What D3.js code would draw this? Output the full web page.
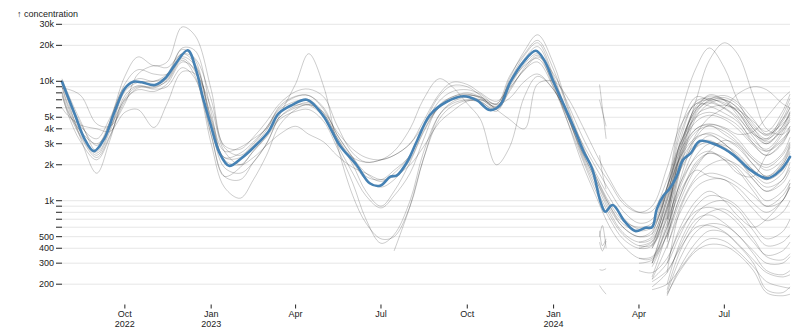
<!DOCTYPE html>
<html><head><meta charset="utf-8">
<script src="https://cdn.jsdelivr.net/npm/d3@7"></script>
<style>
body{margin:0;background:#fff;}
svg{display:block;font-family:"Liberation Sans",Arial,sans-serif;}
</style>
</head><body>
<svg id="chart" width="800" height="328"></svg>
<script>
// ---------- DATA ----------
const yLabel = "↑ concentration";
const yTickValues = [200,300,400,500,600,700,800,900,1000,2000,3000,4000,5000,6000,7000,8000,9000,10000,20000,30000];
const yTickLabels = ["200","300","400","500","","","","","1k","2k","3k","4k","5k","","","","","10k","20k","30k"];
const xTickDates = ["2022-10-01","2023-01-01","2023-04-01","2023-07-01","2023-10-01","2024-01-01","2024-04-01","2024-07-01"];
const xTickMonths = ["Oct","Jan","Apr","Jul","Oct","Jan","Apr","Jul"];
const xTickYears = ["2022","2023","","","","2024","",""];

// semi-monthly sample dates
const dates = [
 "2022-07-26","2022-08-01","2022-08-15","2022-09-01","2022-09-15","2022-10-01","2022-10-15","2022-11-01","2022-11-15","2022-12-01",
 "2022-12-15","2023-01-01","2023-01-15","2023-02-01","2023-02-15","2023-03-01","2023-03-15","2023-04-01","2023-04-15","2023-05-01",
 "2023-05-15","2023-06-01","2023-06-15","2023-07-01","2023-07-15","2023-08-01","2023-08-15","2023-09-01","2023-09-15","2023-10-01",
 "2023-10-15","2023-11-01","2023-11-15","2023-12-01","2023-12-15","2024-01-01","2024-01-15","2024-02-01","2024-02-15","2024-03-01",
 "2024-03-15","2024-04-01","2024-04-15","2024-05-01","2024-05-15","2024-06-01","2024-06-15","2024-07-01","2024-07-15","2024-08-01",
 "2024-08-15","2024-09-01","2024-09-09"];

// long-running sites (aligned with dates)
const longSites = [
 [8700,8600,7600,4400,4200,6500,11500,13500,13000,17000, 15500,7000,2900,2700,3400,4600,6500,8200,8600,7400, 4300,2500,2100,2200,2400,3000,4600,7800,9800,9400, 8000,6800,8800,12500,16000,11500,6800,3400,2100,1400, 950,800,900,1900,4200,6500,7000,6600,5600,3600, 3000,3900,4600],
 [9500,7000,3300,1700,3200,7600,9200,8800,10200,15500, 12000,3600,1600,1500,2100,3000,5000,6200,6600,5200, 3000,1700,1100,870,1100,1700,3200,6300,7400,7800, 7200,5900,9800,15500,19500,10500,5400,2300,1300,750, 520,420,430,900,1900,3000,3200,2700,2200,1600, 1300,1500,2100],
 [6000,5200,4300,4000,3800,5500,5800,4100,6500,12000, 11500,6000,2600,2000,2300,2900,3600,4200,3600,3100, 2400,1900,1700,1500,1600,2000,2800,4500,5600,6800, 7000,6400,7200,10000,11500,8500,5500,3000,1900,1200, 820,650,700,1300,2600,4000,4300,3600,3000,2200, 1900,2400,3100],
 [10500,8000,4600,2600,4600,11000,16000,13500,14500,28500, 24000,8500,2800,2400,3000,4100,6000,7400,7600,5800, 3600,2300,1600,1500,1800,2400,4200,7500,9200,9000, 7600,6000,10500,18000,24500,14000,6500,2900,1600,900, 600,500,560,1300,3000,5800,7200,7000,6000,4000, 3300,4200,5500],
 [9000,6200,3500,2400,3800,8200,9800,10000,11500,18500, 15000,4200,1900,1700,2100,3000,5200,9500,17000,9000, 3000,1100,650,480,500,900,2200,5200,6700,7400, 7000,6200,9000,14000,17000,9500,4800,2000,1100,600, 420,330,330,650,1400,2300,2600,2200,1800,1200, 900,1000,1400],
 [7600,5600,3800,3000,4100,7000,8500,8200,9500,14500, 12500,4600,2300,2500,3100,4100,5800,6800,7000,5400, 3400,2300,2100,2200,2600,4000,7000,10500,9000,6500, 4800,2000,2800,7500,11000,8500,5200,2800,1700,1050, 720,580,620,1200,2300,3400,3600,3000,2400,1800, 1500,1800,2500],
 [8200,5800,3400,2300,3500,6800,8800,9000,10000,15000, 11000,3000,1300,1050,1500,2400,4300,5800,6400,5300, 3400,2000,1200,900,1200,2100,3700,6000,7000,7600, 7400,6500,9500,13500,15500,9500,5400,2400,1400,800, 540,450,480,1000,2100,3300,3700,3300,2800,2000, 1600,2000,2800],
 [9200,6500,3700,2500,4000,8500,10500,10000,11000,19000, 18000,5500,2200,2000,2600,3500,5000,6000,6300,5000, 3200,2100,1500,1300,1500,2200,3800,6200,7400,8000, 7400,6100,10000,16500,21000,11000,5600,2500,1500,900, 640,560,600,1150,2400,4000,4400,4000,3300,2300, 2000,2500,3400],
 [8000,5400,3100,2200,3400,7200,9000,8600,9000,13000, 10500,3500,1600,1900,2600,3400,4800,5600,5800,4600, 2800,1400,700,440,520,1000,2500,5200,6500,7000, 6800,5600,8500,12500,14500,8800,4800,2200,1200,700, 480,400,420,850,1800,2800,3100,2800,2300,1700, 1400,1700,2300],
 [9900,7200,4200,3300,4900,9000,10000,9200,10500,16000, 13500,5000,2600,2800,3300,4000,5600,6300,6400,5500, 3800,2700,2300,2200,2400,3000,4200,6000,7200,7700, 7300,5800,4800,4000,9500,10000,7500,4200,2500,1500, 1000,800,820,1500,3000,5000,5500,5000,4300,3000, 2600,3200,4200],
 [10200,7600,4400,2900,4600,9500,12500,11500,11500,17000, 14000,4800,2300,2300,2900,3900,6200,7500,7600,6000, 3600,2300,1700,1450,1700,2400,4000,6800,8200,8500, 7800,6400,11000,17000,22000,12500,6200,2700,1600,950, 680,600,650,1300,2800,4600,5200,4800,4000,2900, 2400,3000,4000],
 [null,null,null,null,null,null,null,null,null,null, null,null,null,null,null,null,null,null,null,null, null,null,null,null,380,900,2200,4800,6200,6900, 6700,5800,8200,13000,16500,9000,5200,2500,1500,850, 600,500,530,1050,2300,3800,4200,3800,3100,2200, 1800,2200,3000]
];

// short fragments in late February 2024
const fragmentDates = ["2024-02-19","2024-02-22","2024-02-26"];
const fragments = [
 [9400,6000,3300],[7000,5600,4200],[2400,1700,1250],[560,420,480],
 [500,620,400],[450,380,460],[265,262,270],[195,180,165]
];

// sites that start in 2024 (aligned with dates from 2024-03-01)
const lateSites = [
 [null,null,400,450,900,3200,6800,7200,6400,5600,3800,3000,4200,5600],
 [null,null,null,300,750,2600,6200,7500,6900,5200,3400,2600,3600,4800],
 [null,null,null,520,1200,4000,7400,6900,6000,5000,3600,3300,5200,7200],
 [null,null,null,null,620,2200,5600,6800,7300,6400,4400,3500,4600,6000],
 [null,null,null,420,1000,3600,6500,6200,5400,4600,3200,2700,3800,5000],
 [null,null,null,null,500,1800,5000,6500,7000,6000,4000,3100,4000,5400],
 [null,null,420,460,1100,3000,5800,7700,7000,5500,3700,3200,4800,6600],
 [null,null,null,230,560,2000,5200,6000,6300,5800,4600,3800,5600,7800],
 [null,null,null,400,850,2800,6000,6600,5900,4800,3000,2400,3100,3900],
 [null,null,null,null,700,2400,5400,7000,7600,6700,4800,3600,4400,5200],
 [null,null,300,320,600,1300,2400,3000,2900,2500,1800,1500,2000,2600],
 [null,null,null,null,480,1000,1900,2600,3200,2900,2000,1600,2100,2900],
 [null,null,null,400,700,1400,2800,3500,3000,2300,1500,1200,1500,1900],
 [null,null,null,null,400,900,1600,2000,2200,2000,1500,1200,1400,1800],
 [null,null,null,280,520,1100,2100,2500,2300,1900,1300,1000,1200,1500],
 [null,null,null,null,250,850,1500,1700,1600,1400,1100,900,1100,1400],
 [null,null,330,340,600,1200,1800,1600,1500,1300,950,800,1000,1300],
 [null,null,null,220,420,800,1300,1500,1500,1200,850,680,800,1000],
 [null,null,null,220,300,520,900,1100,1050,900,620,480,550,700],
 [null,null,null,null,200,450,780,950,1000,850,560,420,450,520],
 [null,null,260,250,330,560,820,880,800,650,450,350,380,450],
 [null,null,null,null,180,380,650,800,850,700,480,340,320,360],
 [null,null,null,190,250,420,700,760,650,520,380,300,300,340],
 [null,null,null,null,170,330,550,640,620,520,360,260,240,260],
 [null,null,null,210,260,400,600,620,550,440,320,250,230,240],
 [null,null,null,null,160,280,450,560,540,430,300,180,170,190],
 [null,null,null,180,200,270,400,480,460,380,280,210,190,185],
 [null,null,null,null,165,260,380,430,420,360,260,170,160,165],
 [null,null,null,300,800,2500,7000,15000,21000,17000,7500,4000,3600,4200],
 [null,null,450,500,1300,5000,13000,19000,13000,7000,4200,3600,4800,6000],
 [null,null,null,null,700,1800,3600,5000,6000,7800,9000,8500,6500,6000],
 [null,null,null,null,450,1500,3400,4300,4100,3600,3800,5000,7200,8200],
 [null,null,null,300,520,1100,2000,2500,2200,1700,1600,2400,3300,3800],
 [null,null,null,null,300,600,1000,1200,1000,750,600,700,1000,1300]
];

// median line
const medianDates = [
 "2022-07-26","2022-08-09","2022-08-19","2022-08-29","2022-09-09","2022-09-20","2022-10-01","2022-10-10","2022-10-19","2022-11-02",
 "2022-11-13","2022-11-23","2022-12-07","2022-12-16","2022-12-23","2022-12-31","2023-01-10","2023-01-20","2023-02-02","2023-02-16",
 "2023-03-03","2023-03-14","2023-03-28","2023-04-13","2023-04-30","2023-05-18","2023-06-05","2023-06-19","2023-06-30","2023-07-11",
 "2023-07-18","2023-07-29","2023-08-08","2023-08-22","2023-09-09","2023-09-27","2023-10-11","2023-10-25","2023-11-05","2023-11-16",
 "2023-11-30","2023-12-13","2023-12-22","2024-01-01","2024-01-12","2024-01-23","2024-02-02","2024-02-11","2024-02-20","2024-02-25",
 "2024-03-04","2024-03-17","2024-03-28","2024-04-08","2024-04-15","2024-04-20","2024-04-27","2024-05-04","2024-05-11","2024-05-18",
 "2024-05-26","2024-06-05","2024-06-23","2024-07-11","2024-07-29","2024-08-16","2024-08-30","2024-09-09"];
const medianValues = [
 9900,5200,3300,2600,3300,5550,8700,9900,9800,9300,
 10600,13600,18200,12400,7400,4470,2500,1960,2260,2830,
 3780,5380,6320,7000,5200,2920,1990,1400,1335,1590,
 1630,2120,3120,5200,6740,7500,6950,5740,6320,9870,
 14550,18000,15040,9870,6320,4030,2570,1865,980,810,
 920,667,557,594,600,850,1100,1270,1590,2200,
 2490,3160,2920,2410,1805,1540,1805,2330];

// ---------- CHART ----------
const parse = d3.utcParse("%Y-%m-%d");
const svg = d3.select("#chart");

const x = d3.scaleUtc()
  .domain([parse("2022-07-26"), parse("2024-09-09")])
  .range([62, 790]);
const y = d3.scaleLog()
  .domain([200, 30000])
  .range([284.2, 24.3]);

// grid
svg.append("g").selectAll("line").data(yTickValues).join("line")
  .attr("x1", 62).attr("x2", 790)
  .attr("y1", d => y(d)).attr("y2", d => y(d))
  .attr("stroke", "#000").attr("stroke-opacity", 0.1);

const line = d3.line()
  .defined(d => d[1] != null)
  .x(d => x(d[0])).y(d => y(d[1]))
  .curve(d3.curveCatmullRom.alpha(0.5));

const pd = dates.map(parse);
const lateDates = pd.slice(39);
const fd = fragmentDates.map(parse);

const grayG = svg.append("g")
  .attr("fill", "none").attr("stroke", "#000")
  .attr("stroke-opacity", 0.27).attr("stroke-width", 0.75);

longSites.forEach(s => grayG.append("path").attr("d", line(s.map((v,i) => [pd[i], v]))));
fragments.forEach(s => grayG.append("path").attr("d", line(s.map((v,i) => [fd[i], v]))));
lateSites.forEach(s => grayG.append("path").attr("d", line(s.map((v,i) => [lateDates[i], v]))));

svg.append("path")
  .attr("d", line(medianValues.map((v,i) => [parse(medianDates[i]), v])))
  .attr("fill", "none").attr("stroke", "steelblue")
  .attr("stroke-width", 2.6).attr("stroke-linejoin", "round").attr("stroke-linecap", "round");

// y axis
const ya = svg.append("g").attr("font-size", 9).attr("fill", "#222");
ya.selectAll("line").data(yTickValues).join("line")
  .attr("x1", 56).attr("x2", 62)
  .attr("y1", d => y(d)).attr("y2", d => y(d))
  .attr("stroke", "#222");
ya.selectAll("text").data(yTickValues).join("text")
  .attr("x", 54).attr("y", d => y(d)).attr("dy", "0.32em")
  .attr("text-anchor", "end")
  .text((d,i) => yTickLabels[i]);
svg.append("text").attr("x", 17).attr("y", 16.5)
  .attr("font-size", 9).attr("fill", "#222").text(yLabel);

// x axis
const xa = svg.append("g").attr("font-size", 9).attr("fill", "#222");
xTickDates.forEach((ds, i) => {
  const xx = x(parse(ds));
  xa.append("line").attr("x1", xx).attr("x2", xx).attr("y1", 304.5).attr("y2", 308.5).attr("stroke", "#222");
  xa.append("text").attr("x", xx).attr("y", 317).attr("text-anchor", "middle").text(xTickMonths[i]);
  if (xTickYears[i]) xa.append("text").attr("x", xx).attr("y", 327.3).attr("text-anchor", "middle").text(xTickYears[i]);
});
</script>
</body></html>
